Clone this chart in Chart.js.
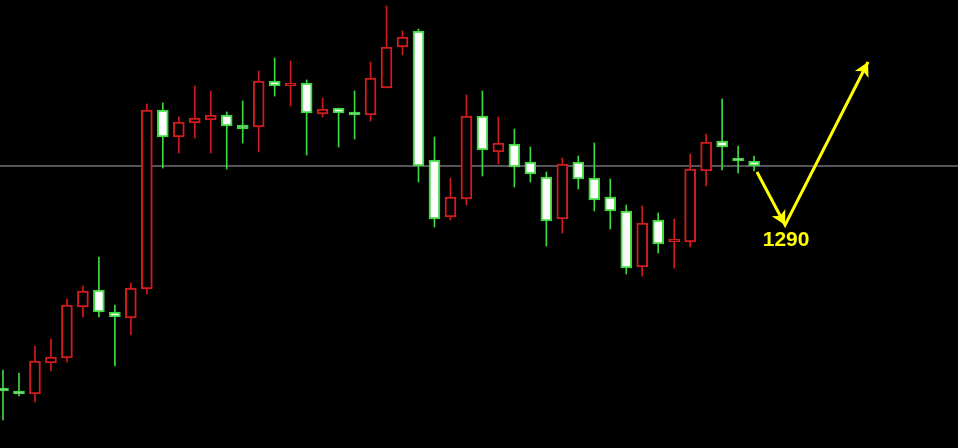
<!DOCTYPE html>
<html lang="en">
<head>
	<meta charset="utf-8">
	<title></title>
	<style>
html, body {
	margin: 0;
	padding: 0;
	background: #000;
}
#chartWrapper {
	width: 958px;
	height: 448px;
	background: #000;
}
	</style>
</head>
<body>

<div id="chartWrapper">
  <canvas id="myChart"></canvas>
</div>

<script src="https://cdn.jsdelivr.net/npm/chart.js"></script>
<script>
// daily candles
const opens  = [1257.4, 1256.8, 1256.2, 1262.4, 1263.4, 1273.6, 1277.0, 1272.6, 1271.4, 1277.2,
	1313.0, 1307.6, 1310.4, 1311.0, 1312.0, 1310.0, 1309.6, 1318.8, 1317.8, 1318.4,
	1312.2, 1313.4, 1312.6, 1312.0, 1317.4, 1325.6, 1328.8, 1303.0, 1291.6, 1295.2,
	1311.8, 1304.6, 1306.2, 1302.6, 1299.6, 1291.2, 1302.6, 1299.4, 1295.6, 1292.8,
	1281.6, 1291.0, 1286.6, 1286.6, 1300.8, 1306.8, 1303.4, 1302.8];
const highs  = [1261.0, 1260.4, 1265.8, 1267.2, 1275.2, 1277.8, 1283.6, 1274.0, 1278.4, 1314.2,
	1314.4, 1311.6, 1317.8, 1316.8, 1312.6, 1314.8, 1320.8, 1323.4, 1322.8, 1319.0,
	1315.4, 1313.4, 1316.8, 1322.6, 1333.8, 1328.8, 1329.2, 1307.6, 1299.4, 1316.0,
	1316.8, 1311.6, 1309.2, 1305.6, 1300.6, 1303.4, 1303.8, 1306.4, 1299.2, 1294.0,
	1293.8, 1292.4, 1291.2, 1304.2, 1308.2, 1315.2, 1305.8, 1303.8];
const lows   = [1251.0, 1255.8, 1254.6, 1260.8, 1262.6, 1271.6, 1271.6, 1261.8, 1268.0, 1276.2,
	1301.4, 1304.4, 1307.4, 1304.4, 1301.2, 1306.4, 1304.6, 1315.8, 1313.8, 1304.0,
	1311.6, 1305.6, 1307.2, 1310.8, 1317.4, 1324.0, 1298.6, 1289.6, 1291.0, 1294.0,
	1299.8, 1302.2, 1297.6, 1298.6, 1285.8, 1288.4, 1297.2, 1292.8, 1289.2, 1280.2,
	1279.8, 1284.4, 1281.4, 1285.6, 1297.8, 1301.0, 1300.4, 1300.8];
const closes = [1256.8, 1256.2, 1262.8, 1263.6, 1274.0, 1276.8, 1272.6, 1271.6, 1277.4, 1313.0,
	1307.6, 1310.6, 1311.4, 1312.0, 1309.8, 1309.2, 1318.8, 1317.8, 1318.4, 1312.4,
	1313.2, 1312.4, 1312.0, 1319.4, 1325.6, 1327.6, 1301.8, 1291.2, 1295.6, 1311.8,
	1305.0, 1306.4, 1301.6, 1300.2, 1290.8, 1302.2, 1299.2, 1295.0, 1292.8, 1281.4,
	1290.4, 1286.2, 1286.8, 1301.2, 1306.6, 1305.6, 1302.8, 1301.8];

const currentPrice = 1301.8;
// projected path: down to 1290 then up
const pathX = [47.18, 48.94, 54.13];
const pathY = [1300.6, 1290, 1322.6];
const targetLabel = '1290';

const upColor = '#d01c1c';
const downColor = '#3fd93f';

document.addEventListener('DOMContentLoaded', init, false);

function init() {
	const isUp = opens.map((o, i) => closes[i] >= o);

	const wicks = highs.map((h, i) => ({x: i, y: [lows[i], h]}));
	const bodies = opens.map((o, i) => ({x: i, y: [o, closes[i]]}));

	const arrowHeads = {
		id: 'arrowHeads',
		afterDatasetsDraw(chart) {
			const {ctx, scales: {x, y}} = chart;
			const pts = pathX.map((v, i) => [x.getPixelForValue(v), y.getPixelForValue(pathY[i])]);
			ctx.save();
			ctx.fillStyle = '#ffff00';
			const head = (from, to) => {
				const a = Math.atan2(to[1] - from[1], to[0] - from[0]);
				const len = 16, w = 0.5;
				ctx.beginPath();
				ctx.moveTo(to[0], to[1]);
				ctx.lineTo(to[0] - len * Math.cos(a - w), to[1] - len * Math.sin(a - w));
				ctx.lineTo(to[0] - len * 0.65 * Math.cos(a), to[1] - len * 0.65 * Math.sin(a));
				ctx.lineTo(to[0] - len * Math.cos(a + w), to[1] - len * Math.sin(a + w));
				ctx.closePath();
				ctx.fill();
			};
			head(pts[0], pts[1]);
			head(pts[1], pts[2]);
			ctx.font = 'bold 21px "Liberation Sans", Arial, sans-serif';
			ctx.textAlign = 'center';
			ctx.textBaseline = 'middle';
			ctx.fillText(targetLabel, pts[1][0] + 1, y.getPixelForValue(1287));
			ctx.restore();
		}
	};

	const ctx = document.getElementById('myChart');

	new Chart(ctx, {
		type: 'bar',
		data: {
		datasets: [{
			type: 'line',
			data: [{x: -1, y: currentPrice}, {x: 61, y: currentPrice}],
			borderColor: '#a8a8b4',
			borderWidth: 1,
			pointRadius: 0,
			order: 3
		}, {
			data: wicks,
			backgroundColor: isUp.map(u => u ? upColor : downColor),
			barThickness: 1,
			grouped: false,
			order: 2
		}, {
			data: bodies,
			backgroundColor: isUp.map(u => u ? '#000000' : '#ffffff'),
			borderColor: isUp.map(u => u ? upColor : downColor),
			borderWidth: 2,
			borderSkipped: false,
			barThickness: 11,
			minBarLength: 3,
			grouped: false,
			order: 1
		}, {
			type: 'line',
			data: pathX.map((v, i) => ({x: v, y: pathY[i]})),
			borderColor: '#ffff00',
			borderWidth: 3,
			pointRadius: 0,
			order: 0
		}]
		},
		options: {
		responsive: true,
		maintainAspectRatio: false,
		animation: false,
		layout: { padding: 0 },
		plugins: {
			legend: { display: false },
			tooltip: { enabled: false }
		},
		scales: {
			x: {
			type: 'linear',
			min: -0.188,
			max: 59.76,
			offset: false,
			bounds: 'ticks',
			display: false
			},
			y: {
			min: 1245.4,
			max: 1335,
			display: false
			}
		}
		},
		plugins: [arrowHeads]
	});
}
</script>
</body>
</html>
